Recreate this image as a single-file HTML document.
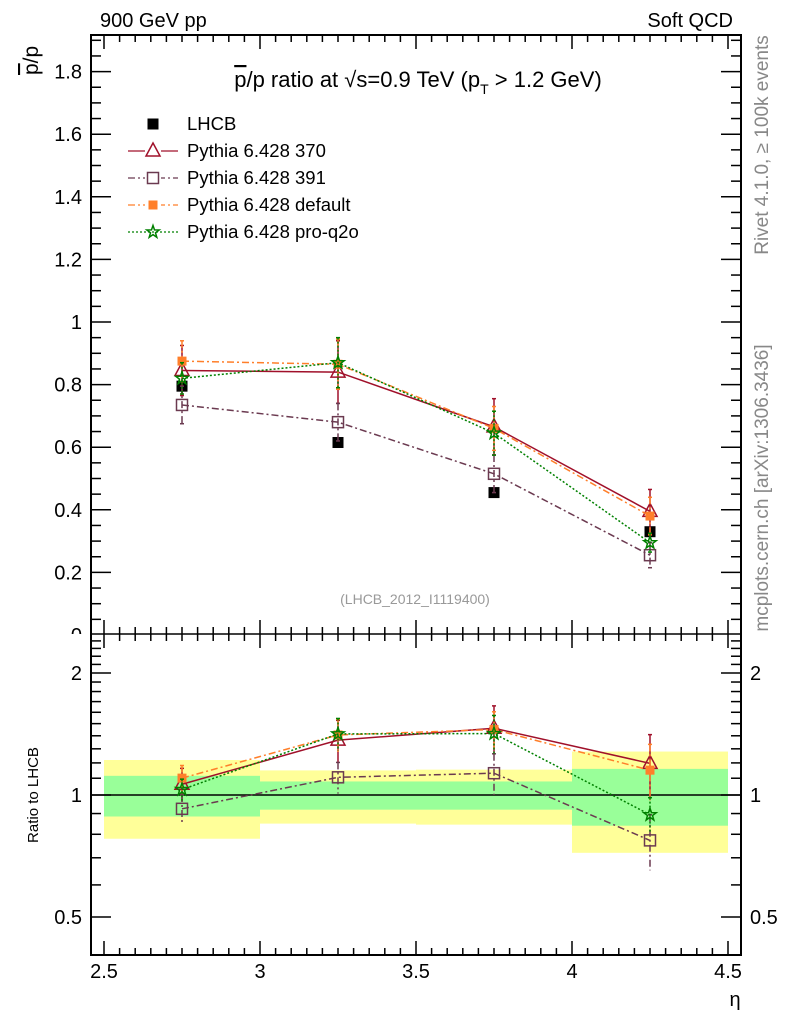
<!DOCTYPE html>
<html><head><meta charset="utf-8"><style>
html,body{margin:0;padding:0;background:#fff;}
svg{display:block;font-family:"Liberation Sans",sans-serif;}
</style></head><body>
<svg id="chart" width="786" height="1024" viewBox="0 0 786 1024">
<defs><clipPath id="topclip"><rect x="0" y="0" width="786" height="634"/></clipPath></defs>
<rect width="786" height="1024" fill="#fff"/>
<g id="bands"></g>
<g id="plot"></g>
<g id="axes"></g>
<text x="100" y="27" font-size="20">900 GeV pp</text>
<text x="733" y="27" font-size="20" text-anchor="end">Soft QCD</text>
<text x="418" y="87" font-size="22" text-anchor="middle"><tspan text-decoration="overline">p</tspan>/p ratio at √s=0.9 TeV (p<tspan font-size="14" dy="7">T</tspan><tspan dy="-7"> &gt; 1.2 GeV)</tspan></text>
<text transform="translate(38,75) rotate(-90)" font-size="21"><tspan text-decoration="overline">p</tspan>/p</text>
<text transform="translate(38,795) rotate(-90)" font-size="15" text-anchor="middle">Ratio to LHCB</text>
<text x="735" y="1006" font-size="20" text-anchor="middle">η</text>
<text x="415" y="604" font-size="14" fill="#999" text-anchor="middle">(LHCB_2012_I1119400)</text>
<text transform="translate(768,145) rotate(-90)" font-size="19" fill="#888" text-anchor="middle">Rivet 4.1.0, ≥ 100k events</text>
<text transform="translate(768,488) rotate(-90)" font-size="19" fill="#888" text-anchor="middle">mcplots.cern.ch [arXiv:1306.3436]</text>
<g id="legend"></g>
</svg>
<script>
const etaBins = [2.75, 3.25, 3.75, 4.25];
const binEdges = [2.5, 3.0, 3.5, 4.0, 4.5];
const lhcbVals = [0.795, 0.615, 0.455, 0.33];
const lhcbStatRel = [0.115, 0.08, 0.08, 0.16];
const lhcbTotRel = [0.22, 0.15, 0.155, 0.28];
const p370Vals = [0.845, 0.84, 0.665, 0.395];
const p370Errs = [0.08, 0.1, 0.09, 0.07];
const p391Vals = [0.735, 0.68, 0.515, 0.255];
const p391Errs = [0.06, 0.06, 0.06, 0.04];
const pDefVals = [0.875, 0.865, 0.66, 0.38];
const pDefErrs = [0.065, 0.08, 0.07, 0.06];
const pQ2oVals = [0.82, 0.87, 0.645, 0.295];
const pQ2oErrs = [0.05, 0.08, 0.07, 0.03];
const xTicks = [2.5, 3, 3.5, 4, 4.5];
const yTicks = [0, 0.2, 0.4, 0.6, 0.8, 1, 1.2, 1.4, 1.6, 1.8];
const rTicks = [0.5, 1, 2];

const NS = "http://www.w3.org/2000/svg";
const L = 91, R = 741, T = 35, MID = 634, B = 955;
const xs = v => 104 + (v - 2.5) * 312;
const ys = v => 635 - v * 313;
const rs = v => 795 - 122 * Math.log2(v);
function mk(parent, tag, attrs) {
  const e = document.createElementNS(NS, tag);
  for (const k in attrs) e.setAttribute(k, attrs[k]);
  parent.appendChild(e);
  return e;
}
const bands = document.getElementById('bands');
const plot = document.getElementById('plot');
const axes = document.getElementById('axes');

for (let i = 0; i < etaBins.length; i++) {
  const x0 = xs(binEdges[i]), x1 = xs(binEdges[i + 1]);
  const yb = mk(bands, 'rect', {x: x0, y: rs(1 + lhcbTotRel[i]), width: x1 - x0, height: rs(1 - lhcbTotRel[i]) - rs(1 + lhcbTotRel[i]), fill: '#ffff99'});
  
  
  const gb = mk(bands, 'rect', {x: x0, y: rs(1 + lhcbStatRel[i]), width: x1 - x0, height: rs(1 - lhcbStatRel[i]) - rs(1 + lhcbStatRel[i]), fill: '#99ff99'});
  
  
}
const one = mk(bands, 'line', {x1: L, x2: R, y1: rs(1), y2: rs(1), stroke: '#000', 'stroke-width': 1.5});



function marker(g, type, x, y, color) {
  let m;
  if (type === 'sqfill') m = mk(g, 'rect', {x: x - 5.5, y: y - 5.5, width: 11, height: 11, fill: color});
  else if (type === 'sqopen') m = mk(g, 'rect', {x: x - 5.5, y: y - 5.5, width: 11, height: 11, fill: 'none', stroke: color, 'stroke-width': 1.5});
  else if (type === 'tri') m = mk(g, 'polygon', {points: `${x},${y - 8} ${x - 7},${y + 5} ${x + 7},${y + 5}`, fill: 'none', stroke: color, 'stroke-width': 1.5});
  else if (type === 'sqsmall') m = mk(g, 'rect', {x: x - 4.5, y: y - 4.5, width: 9, height: 9, fill: color});
  else if (type === 'star') {
    let p = [];
    for (let k = 0; k < 10; k++) { const r = k % 2 ? 2.6 : 6.5; const a = -Math.PI / 2 + k * Math.PI / 5; p.push((x + r * Math.cos(a)).toFixed(1) + ',' + (y + r * Math.sin(a)).toFixed(1)); }
    m = mk(g, 'polygon', {points: p.join(' '), fill: 'none', stroke: color, 'stroke-width': 1.5});
  }
  return m;
}

const series = [
  {name: 'pythia-370', vals: p370Vals, errs: p370Errs, color: '#a0102a', dash: '', mk: 'tri', label: 'Pythia 6.428 370'},
  {name: 'pythia-391', vals: p391Vals, errs: p391Errs, color: '#6b3a50', dash: '7,3,2,3', mk: 'sqopen', label: 'Pythia 6.428 391'},
  {name: 'pythia-default', vals: pDefVals, errs: pDefErrs, color: '#ff7f2a', dash: '7,3,2,3', mk: 'sqsmall', label: 'Pythia 6.428 default'},
  {name: 'pythia-pro-q2o', vals: pQ2oVals, errs: pQ2oErrs, color: '#008000', dash: '2,2', mk: 'star', label: 'Pythia 6.428 pro-q2o'}
];

const dg = mk(plot, 'g', {});


lhcbVals.forEach((v, i) => {
  const e = lhcbVals[i] * lhcbStatRel[i] * 0.2;
  mk(dg, 'line', {x1: xs(etaBins[i]), x2: xs(etaBins[i]), y1: ys(v + e), y2: ys(v - e), stroke: '#000'});
  const m = marker(dg, 'sqfill', xs(etaBins[i]), ys(v), '#000');
  
  
});

series.forEach(s => {
  const g = mk(plot, 'g', {});
  
  
  const pts = s.vals.map((v, i) => xs(etaBins[i]) + ',' + ys(v)).join(' ');
  mk(g, 'polyline', {points: pts, fill: 'none', stroke: s.color, 'stroke-width': 1.5, 'stroke-dasharray': s.dash});
  s.vals.forEach((v, i) => {
    const x = xs(etaBins[i]);
    mk(g, 'line', {x1: x, x2: x, y1: ys(v + s.errs[i]), y2: ys(v - s.errs[i]), stroke: s.color, 'stroke-width': 1.5, 'stroke-dasharray': s.dash});
    mk(g, 'line', {x1: x - 2, x2: x + 2, y1: ys(v + s.errs[i]), y2: ys(v + s.errs[i]), stroke: s.color, 'stroke-width': 1.5});
    mk(g, 'line', {x1: x - 2, x2: x + 2, y1: ys(v - s.errs[i]), y2: ys(v - s.errs[i]), stroke: s.color, 'stroke-width': 1.5});
    const m = marker(g, s.mk, x, ys(v), s.color);
    
    
  });
  const rg = mk(plot, 'g', {});
  
  
  const rp = s.vals.map((v, i) => xs(etaBins[i]) + ',' + rs(v / lhcbVals[i])).join(' ');
  mk(rg, 'polyline', {points: rp, fill: 'none', stroke: s.color, 'stroke-width': 1.5, 'stroke-dasharray': s.dash});
  s.vals.forEach((v, i) => {
    const x = xs(etaBins[i]);
    const r = v / lhcbVals[i], re = s.errs[i] / lhcbVals[i];
    mk(rg, 'line', {x1: x, x2: x, y1: rs(r + re), y2: rs(Math.max(r - re, 0.3)), stroke: s.color, 'stroke-width': 1.5, 'stroke-dasharray': s.dash});
    mk(rg, 'line', {x1: x - 2, x2: x + 2, y1: rs(r + re), y2: rs(r + re), stroke: s.color, 'stroke-width': 1.5});
    const m = marker(rg, s.mk, x, rs(r), s.color);
    
    
  });
});

mk(axes, 'rect', {x: L, y: T, width: R - L, height: B - T, fill: 'none', stroke: '#000', 'stroke-width': 2});
mk(axes, 'line', {x1: L, x2: R, y1: MID, y2: MID, stroke: '#000', 'stroke-width': 1.5});
for (let v = 2.5; v <= 4.5001; v += 0.05) {
  const major = Math.abs(v * 2 - Math.round(v * 2)) < 1e-6;
  const x = xs(v), len = major ? 14 : 7;
  [[B, -1], [MID, -1], [T, 1], [MID, 1]].forEach(([y0, d]) => mk(axes, 'line', {x1: x, x2: x, y1: y0, y2: y0 + d * len, stroke: '#000', 'stroke-width': 1.5}));
}
xTicks.forEach(v => {
  const t = mk(axes, 'text', {x: xs(v), y: 978, 'font-size': 20, 'text-anchor': 'middle'});
  t.textContent = v;
  
  
});
for (let v = 0.05; v < 1.93; v += 0.05) {
  const major = Math.abs(v * 5 - Math.round(v * 5)) < 1e-6;
  const y = ys(v), len = major ? 20 : 10;
  if (y < T) break;
  mk(axes, 'line', {x1: L, x2: L + len, y1: y, y2: y, stroke: '#000', 'stroke-width': 1.5});
  mk(axes, 'line', {x1: R, x2: R - len, y1: y, y2: y, stroke: '#000', 'stroke-width': 1.5});
}
yTicks.forEach(v => {
  const t = mk(axes, 'text', {x: 82, y: ys(v) + 7, 'font-size': 20, 'text-anchor': 'end', 'clip-path': 'url(#topclip)'});
  t.textContent = v;
  
  
});
const subR = [];
for (let v = 0.4; v <= 2.6; v += 0.1) subR.push(+v.toFixed(2));
subR.forEach(v => {
  const y = rs(v);
  if (y < MID + 2 || y > B - 2) return;
  const major = rTicks.includes(v);
  const len = major ? 20 : 10;
  mk(axes, 'line', {x1: L, x2: L + len, y1: y, y2: y, stroke: '#000', 'stroke-width': 1.5});
  mk(axes, 'line', {x1: R, x2: R - len, y1: y, y2: y, stroke: '#000', 'stroke-width': 1.5});
});
rTicks.forEach(v => {
  const t = mk(axes, 'text', {x: 82, y: rs(v) + 7, 'font-size': 20, 'text-anchor': 'end'});
  t.textContent = v;
  
  
  const t2 = mk(axes, 'text', {x: 750, y: rs(v) + 7, 'font-size': 20});
  t2.textContent = v;
  
  
});

const lg = document.getElementById('legend');
const items = [{label: 'LHCB', mk: 'sqfill', color: '#000', dash: null, name: 'lhcb'}].concat(series);
items.forEach((s, i) => {
  const y = 124 + i * 27;
  const g = mk(lg, 'g', {});
  
  
  if (s.dash !== null) mk(g, 'line', {x1: 128, x2: 178, y1: y, y2: y, stroke: s.color, 'stroke-width': 1.3, 'stroke-dasharray': s.dash});
  if (s.dash !== null && s.mk !== 'star') mk(g, 'rect', {x: 145, y: y - 7, width: 16, height: 14, fill: '#fff'});
  marker(g, s.mk, 153, y, s.color);
  const t = mk(g, 'text', {x: 187, y: y + 6, 'font-size': 18.5});
  t.textContent = s.label;
});
</script>
</body></html>
